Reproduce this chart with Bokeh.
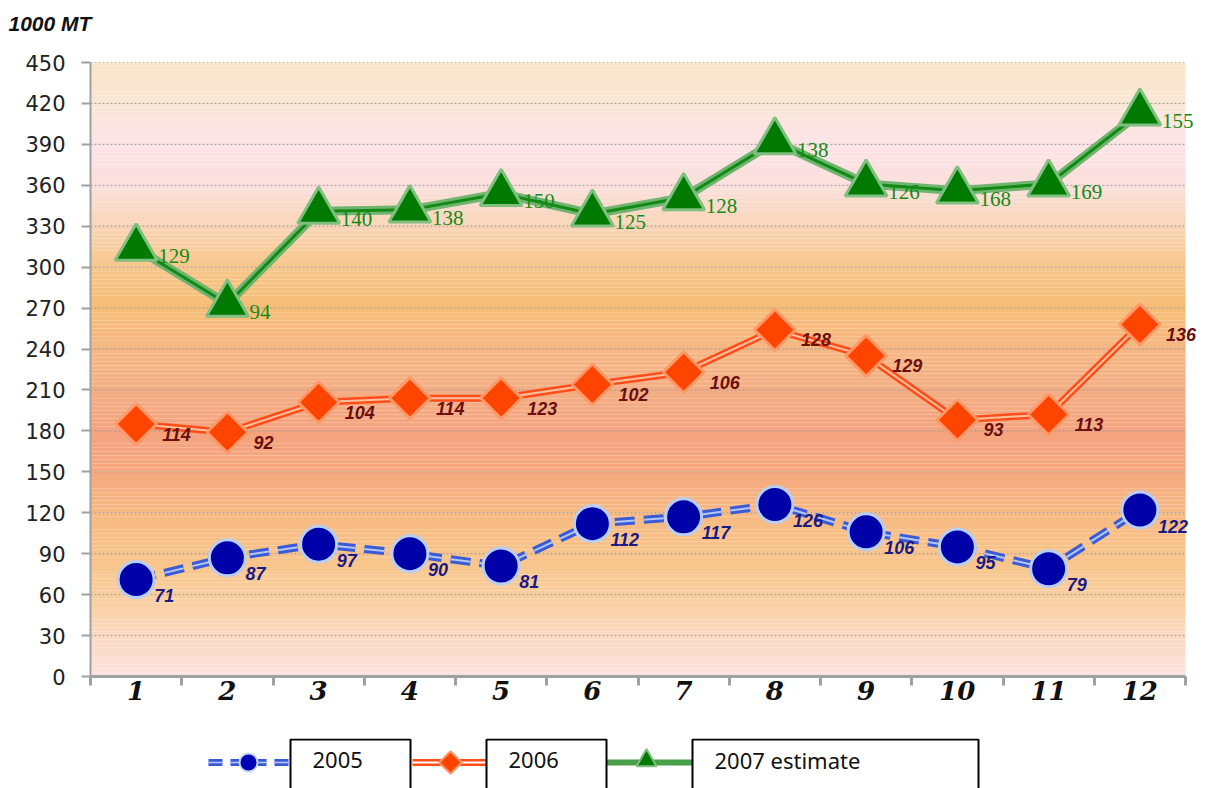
import numpy as np
from bokeh.plotting import figure
from bokeh.models import Range1d, FixedTicker, Column, ColumnDataSource, LabelSet
from bokeh.core.properties import value
from bokeh.embed import file_html
from bokeh.resources import INLINE

# ---- data ----
months = list(range(1, 13))
month_labels = [str(m) for m in months]
y2005 = [71, 87, 97, 90, 81, 112, 117, 126, 106, 95, 79, 122]
y2006 = [114, 92, 104, 114, 123, 102, 106, 128, 129, 93, 113, 136]
y2007 = [129, 94, 140, 138, 150, 125, 128, 138, 126, 168, 169, 155]
series_names = ["2005", "2006", "2007 estimate"]
y_ticks = list(range(0, 451, 30))
unit_title = "1000 MT"

# stacked positions
s1 = np.array(y2005)
s2 = s1 + np.array(y2006)
s3 = s2 + np.array(y2007)

W = 1200
TH = 36            # title strip height
H = 738 - TH       # main figure height
FL, FR, FT, FB = 90, 1185, 62, 676
XL, XR = 0.5, 12.5
px_per_cat = (FR - FL) / (XR - XL)
x_end = XR + (W - FR) / px_per_cat   # extra room so edge labels are not clipped

# ---- title strip ----
tp = figure(width=W, height=TH, output_backend="svg", toolbar_location=None,
            x_range=Range1d(0, 1), y_range=Range1d(0, 1),
            min_border_left=FL, min_border_right=0, min_border_top=TH - 2,
            min_border_bottom=0)
tp.axis.visible = False
tp.grid.visible = False
tp.outline_line_color = None
tp.background_fill_color = "white"
tp.border_fill_color = "white"
tp.scatter([], [])
tp.title.text = unit_title
tp.title.text_font = "Liberation Sans"
tp.title.text_font_style = "bold italic"
tp.title.text_font_size = "21px"
tp.title.text_color = "#111111"
tp.title.align = "left"
tp.title.offset = -82
tp.title.standoff = 0

# ---- main chart ----
p = figure(width=W, height=H, output_backend="svg", toolbar_location=None,
           x_range=Range1d(XL, x_end), y_range=Range1d(0, 450),
           min_border_left=FL, min_border_right=0, min_border_top=FT - TH,
           min_border_bottom=H - (FB - TH))
p.outline_line_color = None
p.background_fill_color = "white"
p.border_fill_color = "white"

# background gradient
stops_v = [0, 30, 60, 90, 120, 150, 180, 210, 240, 270, 300, 330, 360, 390, 420, 450]
stops_c = ["#fce2e0", "#fbd9c0", "#f9cd9c", "#f8c388", "#f7b982", "#f5a880", "#f4a37e",
           "#f4ae84", "#f5b784", "#f6bd76", "#f7c68a", "#f9d5b6", "#fbdfdc", "#fce3e6",
           "#fae6d6", "#f8e6c6"]
def hex2rgb(h):
    return np.array([int(h[i:i + 2], 16) for i in (1, 3, 5)], dtype=float)
rgbs = np.array([hex2rgb(c) for c in stops_c])
edges = np.linspace(0, 450, 151)
mids = (edges[:-1] + edges[1:]) / 2
cols = []
for m in mids:
    r = [np.interp(m, stops_v, rgbs[:, k]) for k in range(3)]
    cols.append("#%02x%02x%02x" % tuple(int(round(v)) for v in r))
bg = p.quad(left=XL, right=XR, bottom=edges[:-1], top=edges[1:], fill_color=cols,
            line_color=None)
bg.level = "image"

# grid lines (drawn only across the plot area)
p.xgrid.grid_line_color = None
p.ygrid.grid_line_color = None
gl = p.segment(x0=[XL] * len(y_ticks), y0=y_ticks, x1=[XR] * len(y_ticks), y1=y_ticks,
               line_color="#a09898", line_dash="2 2", line_width=1)
gl.level = "underlay"

# axes
p.yaxis.ticker = FixedTicker(ticks=y_ticks)
p.yaxis.major_label_text_font = "DejaVu Sans"
p.yaxis.major_label_text_font_size = "21px"
p.yaxis.major_label_text_color = "#222222"
p.yaxis.axis_line_color = "#a0a0a0"
p.yaxis.axis_line_width = 2
p.yaxis.major_tick_out = 9
p.yaxis.major_tick_in = 0
p.yaxis.major_tick_line_color = "#a0a0a0"
p.yaxis.major_tick_line_width = 2
p.yaxis.minor_tick_line_color = None
p.yaxis.major_label_standoff = 16

p.xaxis.ticker = FixedTicker(ticks=months, minor_ticks=[m - 0.5 for m in months] + [12.5])
p.xaxis.bounds = (XL, XR)
p.xaxis.major_label_overrides = {m: l for m, l in zip(months, month_labels)}
p.xaxis.major_label_text_font = "DejaVu Serif"
p.xaxis.major_label_text_font_style = "bold italic"
p.xaxis.major_label_text_font_size = "26px"
p.xaxis.major_label_text_color = "#111111"
p.xaxis.axis_line_color = "#a0a0a0"
p.xaxis.axis_line_width = 3
p.xaxis.major_tick_out = 0
p.xaxis.major_tick_in = 0
p.xaxis.minor_tick_out = 9
p.xaxis.minor_tick_in = 0
p.xaxis.minor_tick_line_color = "#a0a0a0"
p.xaxis.minor_tick_line_width = 3
p.xaxis.major_label_standoff = -5

def add_labels(ys, vals, color, font, style, size, xo, yo):
    src = ColumnDataSource(dict(x=months, y=list(ys), t=[str(v) for v in vals]))
    ls = LabelSet(x="x", y="y", text="t", source=src, x_offset=xo, y_offset=yo,
                  text_align="left", text_baseline="middle", text_color=color,
                  text_font=value(font), text_font_style=style, text_font_size=size)
    p.add_layout(ls)

# --- series 2005 (blue dashed double line, circles)
p.line(months, s1, line_color="#3a5bd6", line_width=8, line_dash="20 9")
p.line(months, s1, line_color="#b4c6f2", line_width=2, line_dash="20 9")
p.scatter(months, s1, marker="circle", size=36, fill_color="#0000a8",
          line_color="#b8cef4", line_width=3)
add_labels(s1, y2005, "#1a1a84", "Liberation Sans", "bold italic", "18px", 18, -16)

# --- series 2006 (red double line, diamonds)
p.line(months, s2, line_color="#ff4d1a", line_width=7)
p.line(months, s2, line_color="#ffc0a0", line_width=2)
p.scatter(months, s2, marker="square", angle=np.pi / 4, size=29, fill_color="#ff4400",
          line_color="#ff9868", line_width=3)
add_labels(s2, y2006, "#6b0f0f", "Liberation Sans", "bold italic", "18px", 26, -10)

# --- series 2007 estimate (green, triangles)
p.line(months, s3, line_color="#6fb46f", line_width=9)
p.line(months, s3, line_color="#138a13", line_width=3)
p.scatter(months, s3, marker="triangle", size=42, fill_color="#007a00",
          line_color="#7fbf7f", line_width=3)
add_labels(s3, y2007, "#168a16", "Liberation Serif", "normal", "21px", 22, -8)

# ---- legend strip (frame aligned with main frame; x in page pixels) ----
LH = 50
lg = figure(width=W, height=LH, output_backend="svg", toolbar_location=None,
            x_range=Range1d(FL, W), y_range=Range1d(LH, 0),
            min_border_left=FL, min_border_right=0,
            min_border_top=0, min_border_bottom=0)
lg.axis.visible = False
lg.grid.visible = False
lg.outline_line_color = None
lg.background_fill_color = "white"
lg.border_fill_color = "white"
ly = 24
# blue
lg.segment(x0=[208], y0=[ly], x1=[290], y1=[ly], line_color="#3a5bd6", line_width=7,
           line_dash="14 8")
lg.segment(x0=[208], y0=[ly], x1=[290], y1=[ly], line_color="#b4c6f2", line_width=1.5,
           line_dash="14 8")
lg.scatter([248], [ly], marker="circle", size=18, fill_color="#0000b4",
           line_color="#c4d6f6", line_width=2)
# red
lg.segment(x0=[412], y0=[ly], x1=[486], y1=[ly], line_color="#ff4d1a", line_width=7)
lg.segment(x0=[412], y0=[ly], x1=[486], y1=[ly], line_color="#ffffff", line_width=2)
lg.scatter([450], [ly], marker="square", angle=np.pi / 4, size=16, fill_color="#ff4400",
           line_color="#ff9868", line_width=2)
# green
lg.segment(x0=[606], y0=[ly], x1=[692], y1=[ly], line_color="#4aa04a", line_width=6)
lg.scatter([646], [ly - 2], marker="triangle", size=20, fill_color="#007a00",
           line_color="#7fbf7f", line_width=2)
# label boxes
box_l = [290, 486, 692]
box_r = [410, 606, 978]
lg.quad(left=box_l, right=box_r, top=[1, 1, 1], bottom=[70, 70, 70],
        fill_color="white", line_color="black", line_width=2)
lg.text(x=[l + 22 for l in box_l], y=[ly - 3] * 3, text=series_names,
        text_align="left", text_baseline="middle", text_color="#111111",
        text_font=value("Noto Sans"), text_font_size="22px")

layout = Column(tp, p, lg, spacing=0)
open("out.html", "w").write(file_html(layout, INLINE))
